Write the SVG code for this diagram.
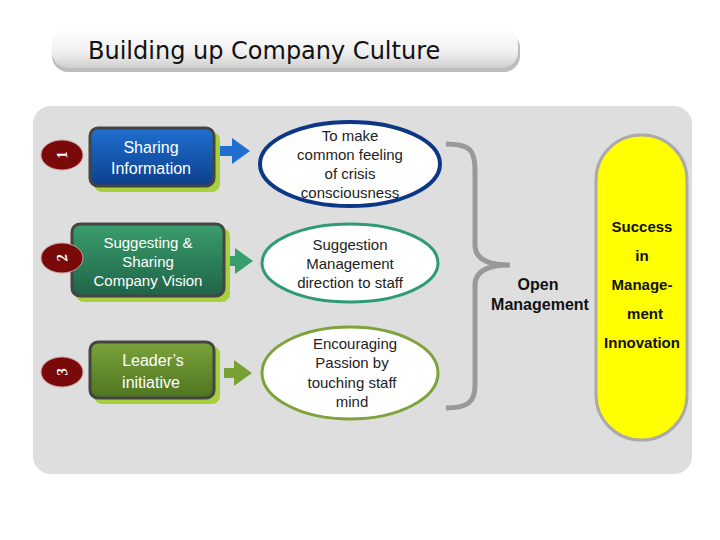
<svg xmlns="http://www.w3.org/2000/svg" width="720" height="540" viewBox="0 0 720 540">
<defs>
<linearGradient id="gt" x1="0" y1="0" x2="0" y2="1"><stop offset="0" stop-color="#ffffff"/><stop offset="0.6" stop-color="#f0f0f0"/><stop offset="1" stop-color="#cfcfcf"/></linearGradient>
<linearGradient id="g1" x1="0" y1="0" x2="0" y2="1"><stop offset="0" stop-color="#1f6fd0"/><stop offset="1" stop-color="#0c3f8c"/></linearGradient>
<linearGradient id="g2" x1="0" y1="0" x2="0" y2="1"><stop offset="0" stop-color="#3a9d6c"/><stop offset="1" stop-color="#1f6448"/></linearGradient>
<linearGradient id="g3" x1="0" y1="0" x2="0" y2="1"><stop offset="0" stop-color="#7aa33a"/><stop offset="1" stop-color="#4f7420"/></linearGradient>
</defs>
<style>
.bx{stroke:#444;stroke-width:3}
.sh{fill:#a8cf3c}
.bt{font-family:"Liberation Sans",Arial,sans-serif;font-size:16px;fill:#fff;text-anchor:middle}
.et{font-family:"Liberation Sans",Arial,sans-serif;font-size:15px;fill:#222;text-anchor:middle}
.yt{font-family:"Liberation Sans",Arial,sans-serif;font-size:15px;font-weight:bold;fill:#111;text-anchor:middle}
.bd{fill:#7a0a0a;stroke:#c9a0a0;stroke-width:1}
.bn{font-family:"Liberation Serif",serif;font-size:15px;font-weight:bold;font-style:italic;fill:#fff;text-anchor:middle}
</style>
<rect width="720" height="540" fill="#fff"/>
<g id="title">
<rect x="52" y="32" width="468" height="40" rx="16" fill="#bdbdbd"/>
<rect x="52" y="28" width="466" height="40" rx="16" fill="url(#gt)"/>
<text x="88" y="59" font-family="'DejaVu Sans',sans-serif" font-size="24" fill="#111">Building up Company Culture</text>
</g>
<rect x="33" y="106" width="659" height="368" rx="18" fill="#dedede"/>
<g id="connectors">
<path d="M220,146 h12 v-8 l18,13 l-18,13 v-8 h-12z" fill="#1f6fd0"/>
<path d="M225,256 h10 v-8 l18,13 l-18,13 v-8 h-10z" fill="#3a9d6c"/>
<path d="M224,368 h10 v-8 l18,13 l-18,13 v-8 h-10z" fill="#77a035"/>
<path d="M446,144 C470,144 475,150 475,170 V245 C475,260 490,265 510,265 C490,265 475,270 475,285 V385 C475,402 468,408 446,408" fill="none" stroke="#999" stroke-width="5"/>
</g>
<g id="n1">
<rect x="94" y="132" width="126" height="60" rx="8" class="sh"/>
<rect x="90" y="128" width="124" height="58" rx="8" fill="url(#g1)" class="bx"/>
<text x="151" y="153" class="bt">Sharing</text><text x="151" y="174" class="bt">Information</text>
</g>
<g id="n2">
<rect x="76" y="228" width="154" height="74" rx="8" class="sh"/>
<rect x="72" y="224" width="152" height="72" rx="8" fill="url(#g2)" class="bx"/>
<text x="148" y="248" class="bt" style="font-size:15px">Suggesting &amp;</text><text x="148" y="267" class="bt" style="font-size:15px">Sharing</text><text x="148" y="286" class="bt" style="font-size:15px">Company Vision</text>
</g>
<g id="n3">
<rect x="94" y="346" width="126" height="58" rx="8" class="sh"/>
<rect x="90" y="342" width="124" height="56" rx="8" fill="url(#g3)" class="bx"/>
<text x="153" y="366" class="bt">Leader’s</text><text x="151" y="388" class="bt">initiative</text>
</g>
<g id="b1"><ellipse cx="62" cy="155" rx="21" ry="15" class="bd"/><text x="62" y="160" class="bn" transform="rotate(-100 62 155)">1</text></g>
<g id="b2"><ellipse cx="62" cy="258" rx="21" ry="15" class="bd"/><text x="62" y="263" class="bn" transform="rotate(-100 62 258)">2</text></g>
<g id="b3"><ellipse cx="62" cy="372" rx="21" ry="15" class="bd"/><text x="62" y="377" class="bn" transform="rotate(-100 62 372)">3</text></g>
<g id="e1"><ellipse cx="350" cy="164" rx="90" ry="42" fill="#fff" stroke="#0c3686" stroke-width="4"/>
<text x="350" y="141" class="et">To make</text><text x="350" y="160" class="et">common feeling</text><text x="350" y="179" class="et">of crisis</text><text x="350" y="198" class="et">consciousness</text></g>
<g id="e2"><ellipse cx="350" cy="263" rx="88" ry="39" fill="#fff" stroke="#2e9a78" stroke-width="3"/>
<text x="350" y="250" class="et">Suggestion</text><text x="350" y="269" class="et">Management</text><text x="350" y="288" class="et">direction to staff</text></g>
<g id="e3"><ellipse cx="350" cy="373" rx="88" ry="46" fill="#fff" stroke="#7ea33c" stroke-width="3"/>
<text x="355" y="349" class="et">Encouraging</text><text x="352" y="368" class="et">Passion by</text><text x="352" y="388" class="et">touching staff</text><text x="352" y="407" class="et">mind</text></g>
<g id="om"><text x="538" y="290" class="yt" style="font-size:16px">Open</text><text x="540" y="310" class="yt" style="font-size:16px">Management</text></g>
<g id="success"><rect x="596" y="135" width="91" height="305" rx="45" fill="#ffff00" stroke="#aaa" stroke-width="3"/>
<text x="642" y="232" class="yt">Success</text><text x="642" y="261" class="yt">in</text><text x="642" y="290" class="yt">Manage-</text><text x="645" y="319" class="yt">ment</text><text x="642" y="348" class="yt">Innovation</text></g>
</svg>
